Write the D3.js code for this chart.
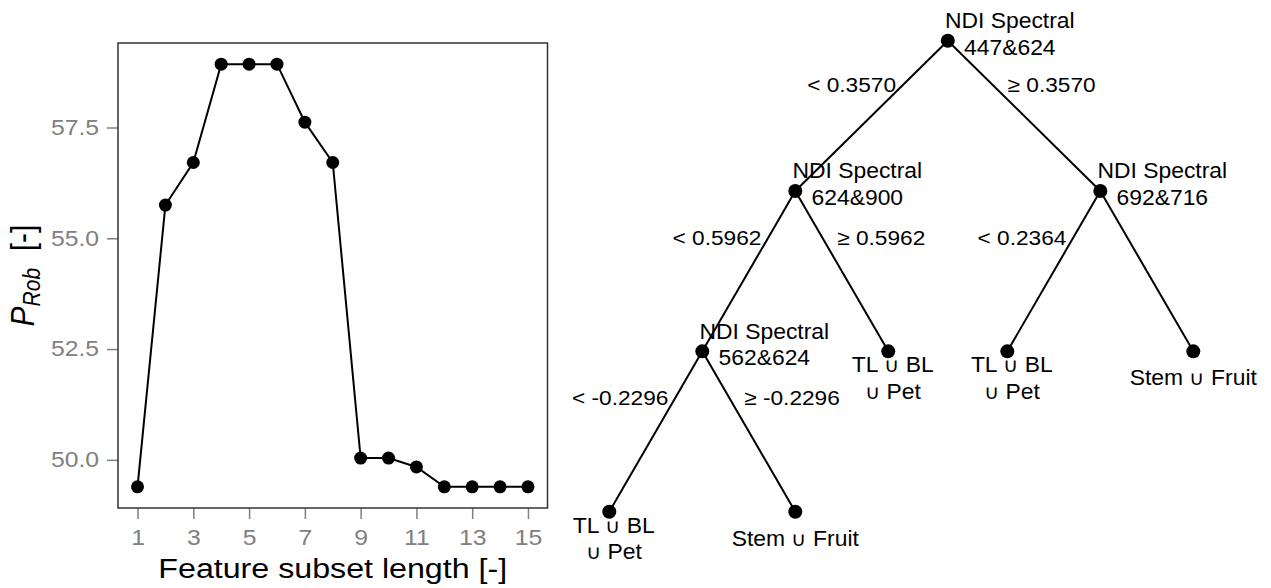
<!DOCTYPE html>
<html>
<head>
<meta charset="utf-8">
<script src="https://cdn.jsdelivr.net/npm/d3@7"></script>
<style>
  html, body { margin: 0; padding: 0; background: #fff; }
  svg { display: block; font-family: "Liberation Sans", Arial, sans-serif; }
</style>
</head>
<body>
<svg id="chart" width="1271" height="588"></svg>
<script>
// ---------------- data ----------------
const subsetLength = [1, 2, 3, 4, 5, 6, 7, 8, 9, 10, 11, 12, 13, 14, 15];
const pRob = [49.39, 55.75, 56.71, 58.93, 58.93, 58.93, 57.62, 56.71, 50.04, 50.04, 49.84, 49.39, 49.39, 49.39, 49.39];
const xTickValues = [1, 3, 5, 7, 9, 11, 13, 15];
const yTickValues = [50.0, 52.5, 55.0, 57.5];
const xTitle = "Feature subset length [-]";

// decision tree
const nodeIds     = ["root", "L", "R", "LL", "LR", "RL", "RR", "LLL", "LLR"];
const nodeParents = [null, "root", "root", "L", "L", "R", "R", "LL", "LL"];
const nodeLabels  = [
  ["NDI Spectral", "447&624"],
  ["NDI Spectral", "624&900"],
  ["NDI Spectral", "692&716"],
  ["NDI Spectral", "562&624"],
  ["TL \u222A BL", "\u222A Pet"],
  ["TL \u222A BL", "\u222A Pet"],
  ["Stem \u222A Fruit"],
  ["TL \u222A BL", "\u222A Pet"],
  ["Stem \u222A Fruit"]
];
const edgeLabels  = [null, "< 0.3570", "\u2265 0.3570", "< 0.5962", "\u2265 0.5962", "< 0.2364", "", "< -0.2296", "\u2265 -0.2296"];

// horizontal stretch of text around its anchor x (reference glyphs are wider than Arial)
function stretch(sel, s, xOf) {
  sel.each(function(d) {
    const el = d3.select(this);
    const ax = xOf ? xOf.call(this, d) : (+el.attr("x") || 0);
    el.attr("transform", `translate(${ax},0) scale(${s},1) translate(${-ax},0)`);
  });
}

// ---------------- left panel: line chart ----------------
const svg = d3.select("#chart");
const box = { left: 118, right: 547.5, top: 43, bottom: 508 };

const xExt = d3.extent(subsetLength);
const xPad = (xExt[1] - xExt[0]) * 0.05;
const x = d3.scaleLinear().domain([xExt[0] - xPad, xExt[1] + xPad]).range([box.left, box.right]);
const yExt = d3.extent(pRob);
const yPad = (yExt[1] - yExt[0]) * 0.05;
const y = d3.scaleLinear().domain([yExt[0] - yPad, yExt[1] + yPad]).range([box.bottom, box.top]);

const axisGrey = "#808080";

const gx = svg.append("g").attr("transform", `translate(0,${box.bottom})`)
  .call(d3.axisBottom(x).tickValues(xTickValues).tickFormat(d3.format("d")).tickSize(11).tickPadding(11));
const gy = svg.append("g").attr("transform", `translate(${box.left},0)`)
  .call(d3.axisLeft(y).tickValues(yTickValues).tickFormat(d3.format(".1f")).tickSize(11).tickPadding(8));
[gx, gy].forEach(g => {
  g.select(".domain").remove();
  g.selectAll(".tick line").attr("stroke", axisGrey).attr("stroke-width", 1.5);
  g.selectAll(".tick text").attr("fill", axisGrey).style("font-size", "21.5px")
    .style("font-family", "'Liberation Sans', Arial, sans-serif");
  stretch(g.selectAll(".tick text"), 1.15);
});

svg.append("rect")
  .attr("x", box.left).attr("y", box.top)
  .attr("width", box.right - box.left).attr("height", box.bottom - box.top)
  .attr("fill", "none").attr("stroke", "#333").attr("stroke-width", 1.5);

const series = subsetLength.map((d, i) => [d, pRob[i]]);
svg.append("path")
  .datum(series)
  .attr("fill", "none").attr("stroke", "#000").attr("stroke-width", 2)
  .attr("d", d3.line().x(d => x(d[0])).y(d => y(d[1])));
svg.append("g").selectAll("circle").data(series).join("circle")
  .attr("cx", d => x(d[0])).attr("cy", d => y(d[1])).attr("r", 6.5).attr("fill", "#000");

const xt = svg.append("text")
  .attr("x", (box.left + box.right) / 2).attr("y", 578)
  .attr("text-anchor", "middle").style("font-size", "28px").attr("fill", "#000")
  .text(xTitle);
stretch(xt, 1.15);

const yTitle = svg.append("text")
  .attr("transform", `translate(33.5,${(box.top + box.bottom) / 2}) rotate(-90) scale(1,1.1)`)
  .attr("text-anchor", "middle").style("font-size", "30px").attr("fill", "#000");
yTitle.append("tspan").style("font-style", "italic").text("P");
yTitle.append("tspan").style("font-style", "italic").style("font-size", "21px").attr("dy", 6).text("Rob");
yTitle.append("tspan").attr("dy", -6).text("\u00A0 [-]");

// ---------------- right panel: decision tree ----------------
const table = nodeIds.map((id, i) => ({ id, parent: nodeParents[i], label: nodeLabels[i], edge: edgeLabels[i] }));
const root = d3.stratify().id(d => d.id).parentId(d => d.parent)(table);
d3.tree().nodeSize([1, 1]).separation((a, b) => a.parent === b.parent ? 1 : 0.64)(root);

const leafX = d3.extent(root.descendants(), d => d.x);
const tx = d3.scaleLinear().domain(leafX).range([609.3, 1193.3]);
const ty = d3.scaleLinear().domain([0, 1, 3]).range([40.7, 191, 511.7]);
root.each(n => { n.px = tx(n.x); n.py = ty(n.depth); });

const tree = svg.append("g").style("font-size", "22px").attr("fill", "#000");

tree.selectAll("line.edge").data(root.links()).join("line")
  .attr("class", "edge")
  .attr("x1", d => d.source.px).attr("y1", d => d.source.py)
  .attr("x2", d => d.target.px).attr("y2", d => d.target.py)
  .attr("stroke", "#000").attr("stroke-width", 2);

tree.selectAll("circle").data(root.descendants()).join("circle")
  .attr("cx", d => d.px).attr("cy", d => d.py).attr("r", 7).attr("fill", "#000");

// edge labels
const frac = 0.3;
const edgeText = tree.selectAll("text.edgeLabel").data(root.descendants().filter(d => d.parent && d.data.edge)).join("text")
  .attr("class", "edgeLabel")
  .style("font-size", "21px")
  .each(function(d) {
    const p = d.parent;
    const ex = p.px + frac * (d.px - p.px);
    const ey = p.py + frac * (d.py - p.py);
    const left = d.px < p.px;
    d3.select(this)
      .attr("x", left ? ex - 6 : ex + 14)
      .attr("y", ey + 6)
      .attr("text-anchor", left ? "end" : "start")
      .text(d.data.edge);
  });
stretch(edgeText, 1.08);

// write a string, drawing the union sign a little smaller (as in the reference)
function writeLine(tspan, s) {
  s.split("\u222A").forEach((part, i) => {
    if (i > 0) tspan.append("tspan").style("font-size", "20px").text("\u222A");
    if (part) tspan.append("tspan").text(part);
  });
}

// node labels
const nodeText = tree.selectAll("text.nodeLabel").data(root.descendants()).join("text")
  .attr("class", "nodeLabel")
  .attr("text-anchor", "middle")
  .each(function(d) {
    const t = d3.select(this);
    const lines = d.data.label;
    let cx, ys;
    if (d.children) { cx = d.px + 62; ys = [d.py - 12.5, d.py + 14]; }
    else if (lines.length === 2) { cx = d.px + 4.5; ys = [d.py + 21, d.py + 47.3]; }
    else { cx = d.px; ys = [d.py + 34]; }
    d.labelX = cx;
    lines.forEach((s, i) => writeLine(t.append("tspan").attr("x", cx).attr("y", ys[i]), s));
  });
stretch(nodeText, 1.04, d => d.labelX);
</script>
</body>
</html>
